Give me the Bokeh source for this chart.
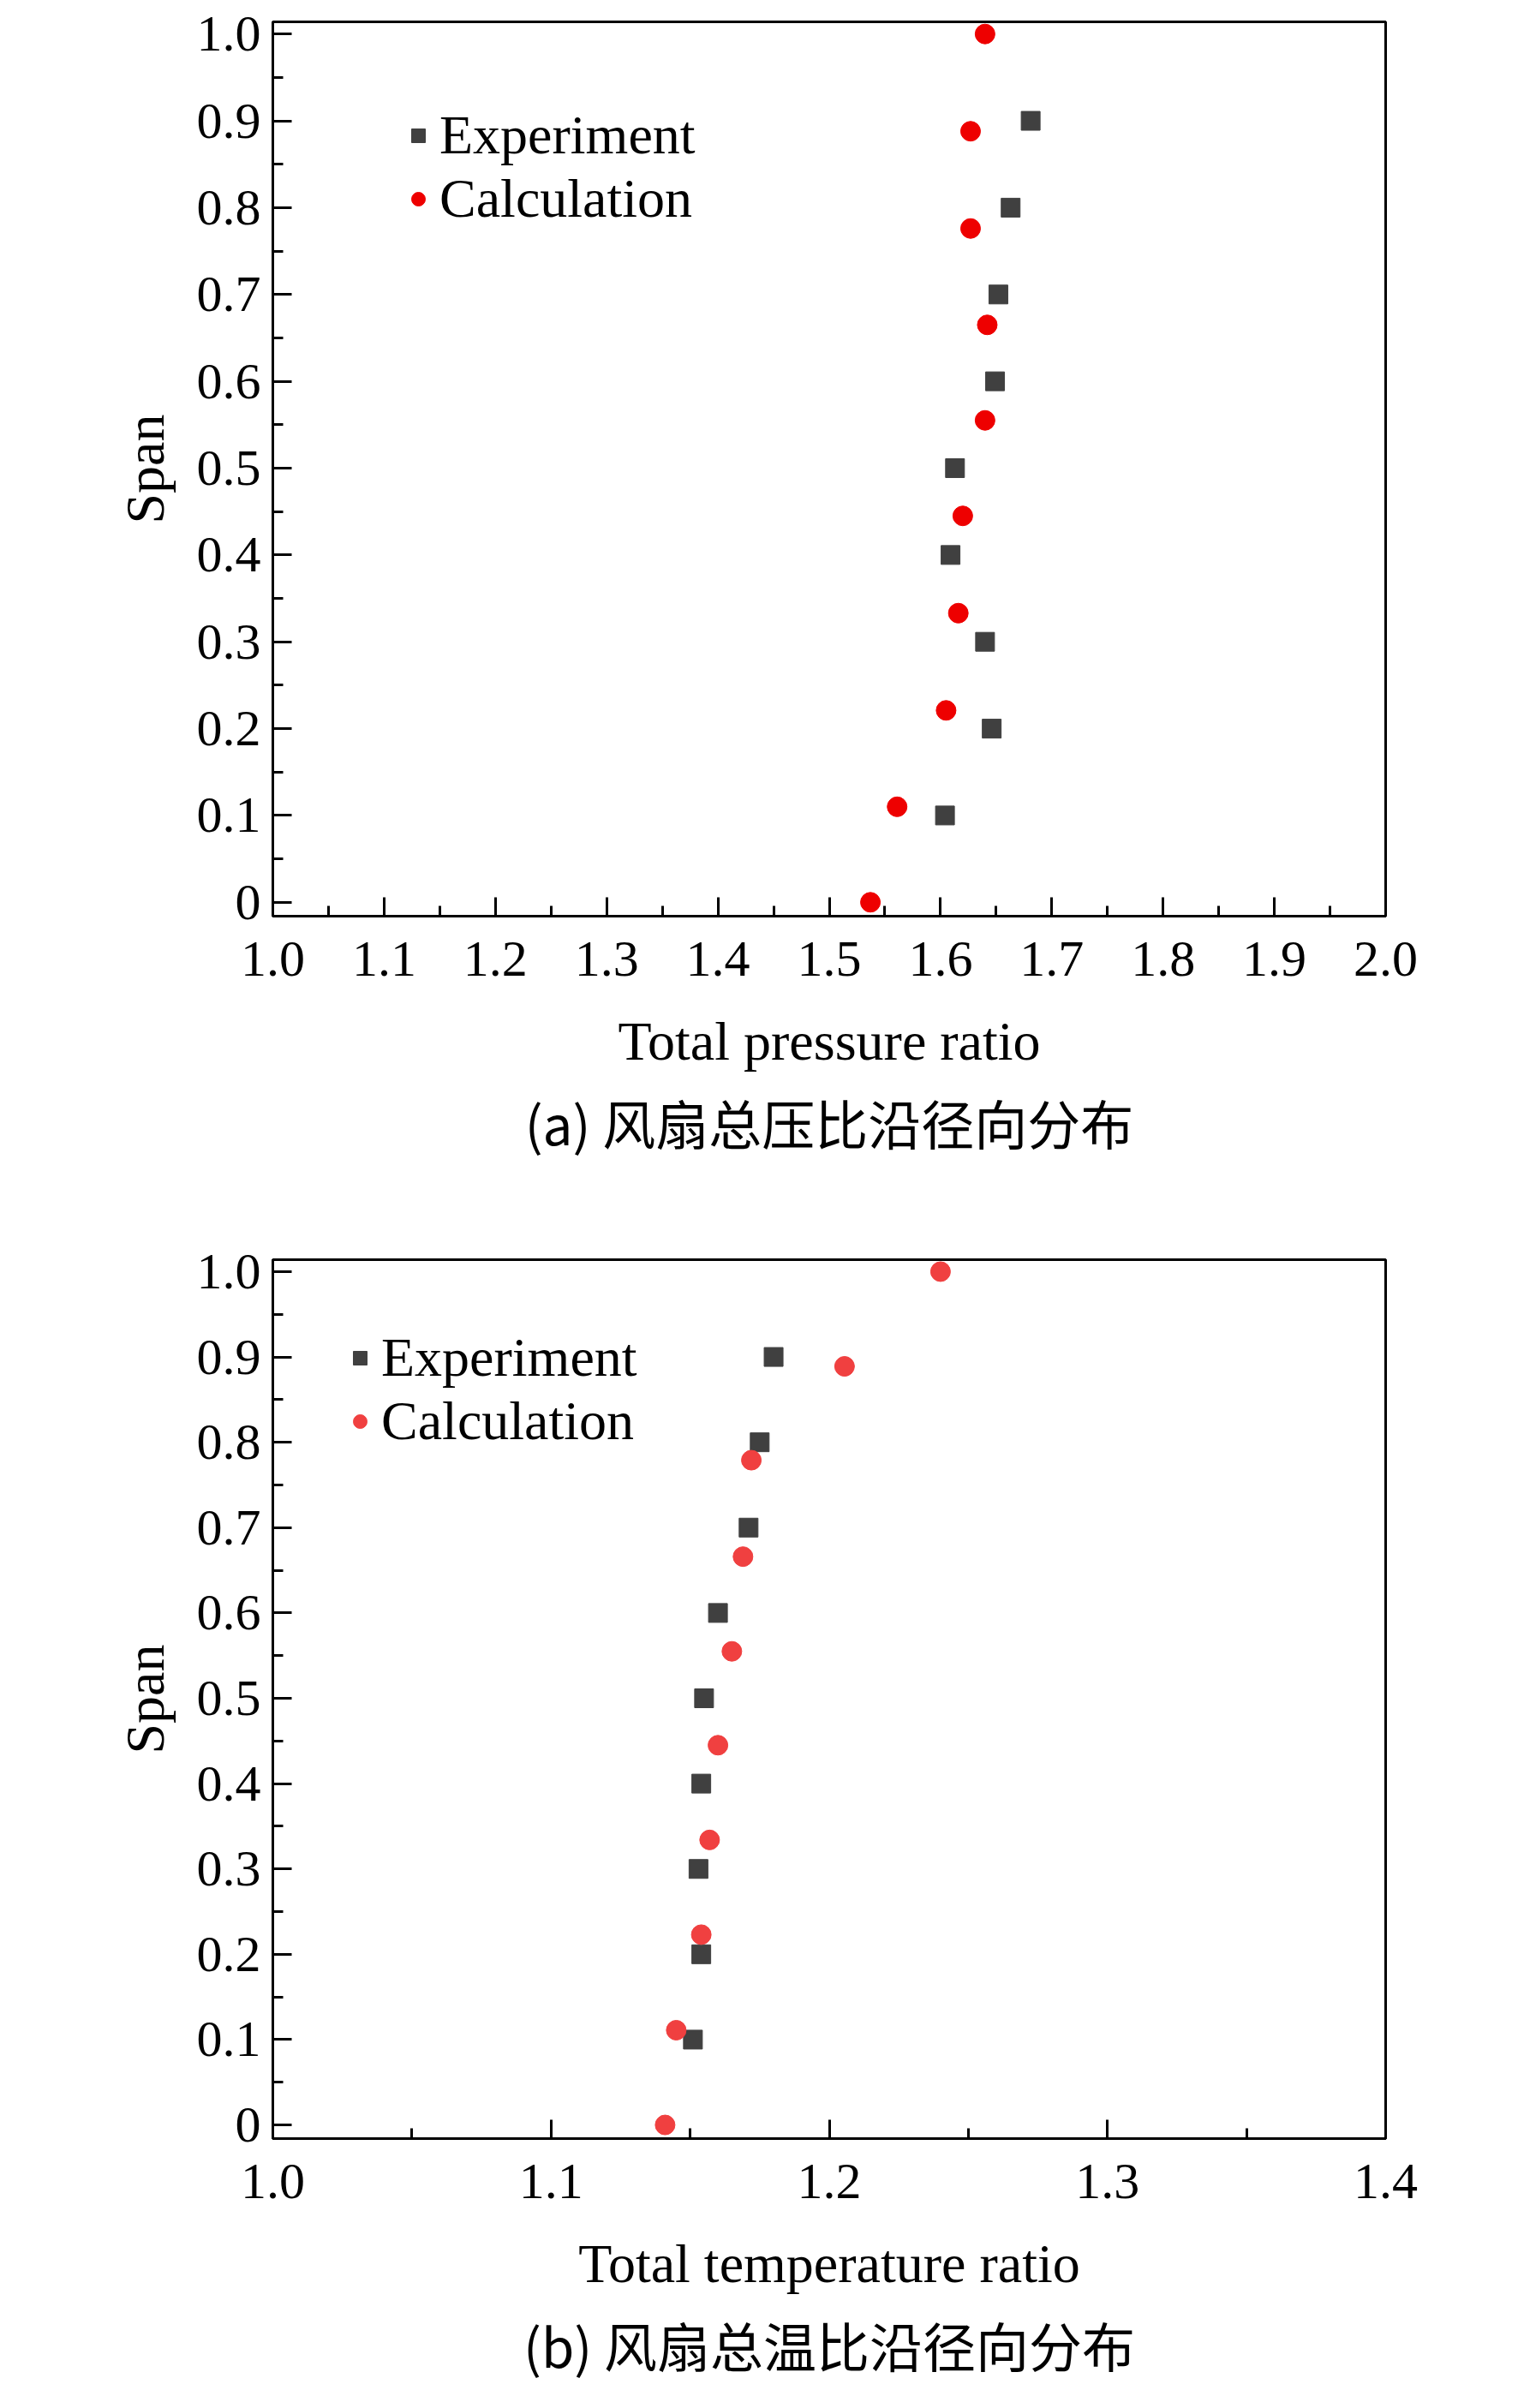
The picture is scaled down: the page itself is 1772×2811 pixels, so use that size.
from bokeh.plotting import figure
from bokeh.layouts import column
from bokeh.models import FixedTicker, Legend, LegendItem, Title
from bokeh.embed import file_html
from bokeh.resources import INLINE

span_exp = [0.9, 0.8, 0.7, 0.6, 0.5, 0.4, 0.3, 0.2, 0.1]
pr_exp = [1.681, 1.663, 1.652, 1.649, 1.613, 1.609, 1.640, 1.646, 1.604]
span_cal = [1.0, 0.888, 0.776, 0.665, 0.555, 0.445, 0.333, 0.221, 0.110, 0.0]
pr_cal = [1.640, 1.627, 1.627, 1.642, 1.640, 1.620, 1.616, 1.605, 1.561, 1.537]

tr_exp = [1.180, 1.175, 1.171, 1.160, 1.155, 1.154, 1.153, 1.154, 1.151]
span_cal2 = [1.0, 0.889, 0.779, 0.666, 0.555, 0.445, 0.334, 0.223, 0.111, 0.0]
tr_cal = [1.240, 1.2055, 1.172, 1.169, 1.165, 1.160, 1.157, 1.154, 1.145, 1.141]

SERIF = "Liberation Serif"
CJK = "Noto Sans CJK SC"

def make(xr, xt, xminor, xlabel, caption, ex, ey, cx, cy, ccol, leg_xy, h, top, bottom):
    p = figure(width=1756, height=h, x_range=xr, y_range=(-0.016, 1.014),
               output_backend="svg", toolbar_location=None,
               min_border_left=318, min_border_right=139,
               min_border_top=top, min_border_bottom=bottom)
    p.grid.visible = False
    p.outline_line_color = "black"
    p.outline_line_width = 3
    p.background_fill_color = "white"
    r1 = p.scatter(ex, ey, marker="square", size=22, color="#404040")
    r2 = p.scatter(cx, cy, marker="circle", size=23, color=ccol)
    p.xaxis.ticker = FixedTicker(ticks=xt, minor_ticks=xminor)
    yt = [round(i * 0.1, 1) for i in range(11)]
    p.yaxis.ticker = FixedTicker(ticks=yt, minor_ticks=[round(0.05 + i * 0.1, 2) for i in range(10)])
    ov = {t: f"{t:.1f}" for t in yt}
    ov[0] = "0"
    p.yaxis.major_label_overrides = ov
    p.xaxis.major_label_overrides = {t: f"{t:.1f}" for t in xt}
    for ax in (p.xaxis[0], p.yaxis[0]):
        ax.major_tick_in = 22
        ax.major_tick_out = 0
        ax.minor_tick_in = 12
        ax.minor_tick_out = 0
        ax.axis_line_width = 3
        ax.major_tick_line_width = 3
        ax.minor_tick_line_width = 3
        ax.major_label_text_font = SERIF
        ax.major_label_text_font_size = "60px"
        ax.major_label_text_color = "black"
        ax.axis_label_text_font = SERIF
        ax.axis_label_text_font_size = "64px"
        ax.axis_label_text_font_style = "normal"
        ax.axis_label_text_color = "black"
    p.xaxis.axis_label = xlabel
    p.yaxis.axis_label = "Span"
    p.xaxis.major_label_standoff = 30
    p.yaxis.major_label_standoff = 14
    p.xaxis.axis_label_standoff = 38
    p.yaxis.axis_label_standoff = 22
    leg = Legend(items=[LegendItem(label="Experiment", renderers=[r1]),
                        LegendItem(label="Calculation", renderers=[r2])],
                 location=leg_xy, label_text_font=SERIF, label_text_font_size="64px",
                 label_text_color="black",
                 border_line_alpha=0, background_fill_alpha=0, glyph_width=40,
                 glyph_height=66, spacing=0, label_height=66, padding=0)
    p.add_layout(leg)
    t = Title(text=caption, align="center", text_font=CJK, text_font_size="62px",
              text_font_style="normal", standoff=18, text_color="black")
    p.add_layout(t, "below")
    return p

p1 = make((1.0, 2.0), [round(1 + i * 0.1, 1) for i in range(11)],
          [round(1.05 + i * 0.1, 2) for i in range(10)],
          "Total pressure ratio", "(a) 风扇总压比沿径向分布",
          pr_exp, span_exp, pr_cal, span_cal, "#ee0000", (150, 800), 1390, 25, 321)
p2 = make((1.0, 1.4), [1.0, 1.1, 1.2, 1.3, 1.4], [1.05, 1.15, 1.25, 1.35],
          "Total temperature ratio", "(b) 风扇总温比沿径向分布",
          tr_exp, span_exp, tr_cal, span_cal2, "#f04040", (82, 800), 1400, 80, 276)
lay = column(p1, p2, spacing=0)
open("out.html", "w").write(file_html(lay, INLINE))
